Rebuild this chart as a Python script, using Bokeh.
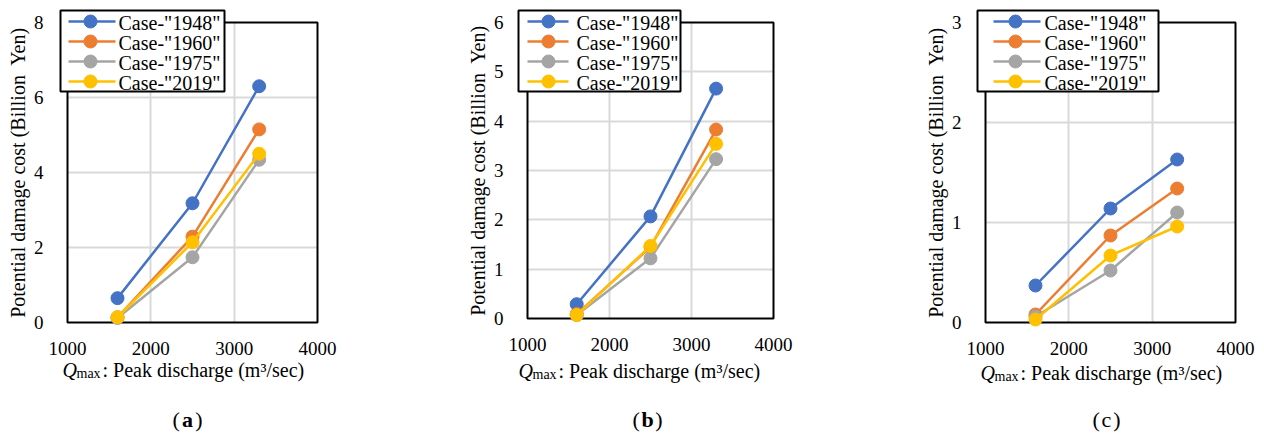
from bokeh.plotting import figure
from bokeh.layouts import row
from bokeh.models import (Label, FixedTicker, Range1d, BoxAnnotation, Grid)
from bokeh.embed import file_html
from bokeh.resources import INLINE

# ---------------- data ----------------
x_q = [1600, 2500, 3300]
cases = ['Case-"1948"', 'Case-"1960"', 'Case-"1975"', 'Case-"2019"']
colors = ["#4472C4", "#ED7D31", "#A5A5A5", "#FFC000"]

a_1948 = [0.65, 3.18, 6.30]
a_1960 = [0.14, 2.29, 5.15]
a_1975 = [0.12, 1.74, 4.34]
a_2019 = [0.14, 2.14, 4.50]

b_1948 = [0.29, 2.07, 4.66]
b_1960 = [0.09, 1.45, 3.83]
b_1975 = [0.07, 1.22, 3.23]
b_2019 = [0.07, 1.47, 3.54]

c_1948 = [0.37, 1.14, 1.63]
c_1960 = [0.08, 0.87, 1.34]
c_1975 = [0.06, 0.52, 1.10]
c_2019 = [0.03, 0.67, 0.96]

x_ticks = [1000, 2000, 3000, 4000]
y_ticks_a = [0, 2, 4, 6, 8]
y_ticks_b = [0, 1, 2, 3, 4, 5, 6]
y_ticks_c = [0, 1, 2, 3]

y_label = "Potential damage cost (Billion\u00a0 Yen)"
x_label_rest = ": Peak discharge (m\u00b3/sec)"
captions = ["a", "b", "c"]

FONT = "Liberation Serif, Tinos, Times New Roman, DejaVu Serif, serif"
FIG_H = 434
HAS_CROSS = "cross_bounds" in Grid.properties()
# offset from the alphabetic baseline to the "middle" anchor, per px of font size
MID = 0.34


class Panel:
    """Maps page pixel positions to this panel's frame (whole canvas)."""

    def __init__(self, x0, W, L, R, T, B, ymax):
        self.x0, self.W = x0, W
        self.xs = 3000.0 / (R - L)
        self.ys = ymax / (B - T)
        self.xstart = 1000 - (L - x0) * self.xs
        self.xend = 4000 + (x0 + W - R) * self.xs
        self.ystart = 0 - (FIG_H - B) * self.ys
        self.yend = ymax + T * self.ys

    def dx(self, sx):
        return self.xstart + (sx - self.x0) * self.xs

    def dy(self, sy):
        return self.yend - sy * self.ys


def add_text(p, P, sx, base, text, size, style="normal", align="left"):
    """Place text so that its alphabetic baseline sits at page row `base`."""
    sy = base - MID * size
    p.add_layout(Label(x=sx - P.x0, y=FIG_H - sy, x_units="screen", y_units="screen",
                       text=text, text_font=FONT, text_font_size=f"{size}px",
                       text_font_style=style, text_align=align,
                       text_baseline="middle", text_color="black"))


def make_panel(series, yticks, x0, W, L, R, T, B, leg, q_left, q_base,
               cap_left, cap_right, cap_bold, cap_letter):
    ymax = yticks[-1]
    P = Panel(x0, W, L, R, T, B, ymax)
    p = figure(width=W, height=FIG_H, title=None,
               min_border_left=0, min_border_right=0,
               min_border_top=0, min_border_bottom=0,
               x_range=Range1d(P.xstart, P.xend), y_range=Range1d(P.ystart, P.yend),
               output_backend="svg", toolbar_location=None)
    p.background_fill_color = "white"
    p.border_fill_color = "white"
    p.outline_line_color = None

    p.xaxis.ticker = FixedTicker(ticks=x_ticks)
    p.yaxis.ticker = FixedTicker(ticks=yticks)
    p.xaxis.fixed_location = 0
    p.yaxis.fixed_location = 1000
    p.xaxis.bounds = (1000, 4000)
    p.yaxis.bounds = (0, ymax)
    for ax in (p.xaxis, p.yaxis):
        ax.axis_line_color = None
        ax.major_tick_line_color = None
        ax.minor_tick_line_color = None
        ax.major_tick_out = 0
        ax.major_tick_in = 0
        ax.major_label_text_font = FONT
        ax.major_label_text_font_size = "19px"
        ax.major_label_text_color = "black"
    p.xaxis.major_label_standoff = 19
    p.yaxis.major_label_standoff = 24
    p.yaxis.axis_label = y_label
    p.yaxis.axis_label_text_font = FONT
    p.yaxis.axis_label_text_font_size = "20px"
    p.yaxis.axis_label_text_font_style = "normal"
    p.yaxis.axis_label_text_color = "black"
    p.yaxis.axis_label_standoff = 2

    # interior grid lines only (the border is drawn separately in black)
    gx = x_ticks[1:-1]
    gy = yticks[1:-1]
    p.xgrid.ticker = FixedTicker(ticks=gx)
    p.ygrid.ticker = FixedTicker(ticks=gy)
    for g in (p.xgrid, p.ygrid):
        g.grid_line_color = "#d9d9d9"
        g.grid_line_width = 2
    if HAS_CROSS:
        p.xgrid.cross_bounds = (0, ymax)
        p.ygrid.cross_bounds = (1000, 4000)
    else:
        p.xgrid.visible = False
        p.ygrid.visible = False
        p.segment(x0=gx, x1=gx, y0=[0] * len(gx), y1=[ymax] * len(gx),
                  line_color="#d9d9d9", line_width=2)
        p.segment(x0=[1000] * len(gy), x1=[4000] * len(gy), y0=gy, y1=gy,
                  line_color="#d9d9d9", line_width=2)

    # plot-area border
    p.add_layout(BoxAnnotation(left=1000, right=4000, bottom=0, top=ymax,
                               fill_color=None, fill_alpha=0,
                               line_color="black", line_alpha=1, line_width=2,
                               level="underlay"))

    # data series
    for name, yv, col in zip(cases, series, colors):
        p.line(x_q, yv, line_color=col, line_width=2.5)
        p.scatter(x_q, yv, size=13, fill_color=col, line_color=col)

    # legend (box, sample line + marker, label)
    bl, bt, br, bb, lx0, lx1, cx, tx = leg
    rows_y = [21, 41, 61, 81]
    p.add_layout(BoxAnnotation(left=P.dx(bl), right=P.dx(br), top=P.dy(bt), bottom=P.dy(bb),
                               fill_color="white", fill_alpha=1, line_color=None))
    for name, sy in zip(cases, rows_y):
        add_text(p, P, tx, sy + 1 + MID * 20, name, 20)
    p.add_layout(BoxAnnotation(left=P.dx(bl), right=P.dx(br), top=P.dy(bt), bottom=P.dy(bb),
                               fill_color=None, fill_alpha=0,
                               line_color="black", line_alpha=1, line_width=2))
    ly = [P.dy(sy) for sy in rows_y]
    p.segment(x0=[P.dx(lx0)] * 4, x1=[P.dx(lx1)] * 4, y0=ly, y1=ly,
              line_color=colors, line_width=2.5, level="overlay")
    p.scatter([P.dx(cx)] * 4, ly, size=13, fill_color=colors, line_color=colors,
              level="overlay")

    # x-axis label: Q_max: Peak discharge (m3/sec)
    add_text(p, P, q_left, q_base, "Q", 20, style="italic")
    add_text(p, P, q_left + 14, q_base + 2, "max", 14)
    add_text(p, P, q_left + 40, q_base, x_label_rest, 20)

    # caption
    add_text(p, P, cap_left, 426, "(", 22)
    add_text(p, P, (cap_left + cap_right) / 2, 426, cap_letter, 22,
             style="bold" if cap_bold else "normal", align="center")
    add_text(p, P, cap_right, 426, ")", 22, align="right")
    return p


pa = make_panel([a_1948, a_1960, a_1975, a_2019], y_ticks_a,
                0, 421, 67, 317, 22, 322,
                (60, 10, 224, 91, 68, 115, 90, 118),
                62, 376, 172, 202, True, captions[0])
pb = make_panel([b_1948, b_1960, b_1975, b_2019], y_ticks_b,
                421, 421, 527, 773, 22, 318,
                (518, 10, 680, 91, 527, 568, 548, 576),
                518, 377, 632, 662, True, captions[1])
pc = make_panel([c_1948, c_1960, c_1975, c_2019], y_ticks_c,
                842, 422, 985, 1235, 22, 322,
                (977, 10, 1158, 91, 993, 1040, 1015, 1044),
                980, 379, 1092, 1120, False, captions[2])

layout = row(pa, pb, pc)
open("out.html", "w").write(file_html(layout, INLINE))
